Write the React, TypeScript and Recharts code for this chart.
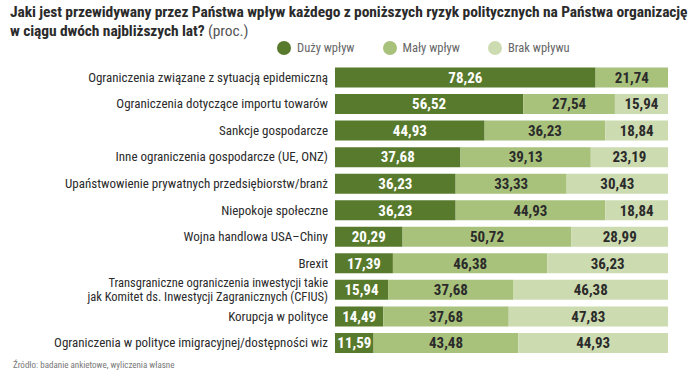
import { BarChart, Bar, XAxis, YAxis, LabelList } from 'recharts';

const categories = [
  'Ograniczenia związane z sytuacją epidemiczną',
  'Ograniczenia dotyczące importu towarów',
  'Sankcje gospodarcze',
  'Inne ograniczenia gospodarcze (UE, ONZ)',
  'Upaństwowienie prywatnych przedsiębiorstw/branż',
  'Niepokoje społeczne',
  'Wojna handlowa USA–Chiny',
  'Brexit',
  'Transgraniczne ograniczenia inwestycji takie\njak Komitet ds. Inwestycji Zagranicznych (CFIUS)',
  'Korupcja w polityce',
  'Ograniczenia w polityce imigracyjnej/dostępności wiz',
];
const duzy = [78.26, 56.52, 44.93, 37.68, 36.23, 36.23, 20.29, 17.39, 15.94, 14.49, 11.59];
const maly = [21.74, 27.54, 36.23, 39.13, 33.33, 44.93, 50.72, 46.38, 37.68, 37.68, 43.48];
const brak = [0, 15.94, 18.84, 23.19, 30.43, 18.84, 28.99, 36.23, 46.38, 47.83, 44.93];

const seriesNames = ['Duży wpływ', 'Mały wpływ', 'Brak wpływu'];
const colors = ['#587a2c', '#a8c27c', '#cddbb0'];

const data = categories.map((name, i) => ({ name, duzy: duzy[i], maly: maly[i], brak: brak[i] }));

const FONT = "'Roboto Condensed', 'Liberation Sans Narrow', 'DejaVu Sans Condensed', Roboto, sans-serif";

const fmt = (v: any) => (v ? Number(v).toFixed(2).replace('.', ',') : '');

const CategoryTick = (props: any) => {
  const { x, y, payload } = props;
  const lines = String(payload.value).split('\n');
  const multi = lines.length > 1;
  const lh = 14;
  const fs = multi ? 12.5 : 13;
  const y0 = y - ((lines.length - 1) * lh) / 2;
  const tx = x + 1;
  return (
    <text x={tx} y={y0} textAnchor="end" fontFamily={FONT} fontSize={fs} fill="#2b2b2b">
      {lines.map((l, i) => (
        <tspan key={i} x={tx} y={y0 + i * lh} dy="0.35em">{l}</tspan>
      ))}
    </text>
  );
};

export default function App() {
  return (
    <div style={{ position: 'absolute', left: 0, top: 0, width: 693, height: 387, background: '#fff' }}>
      <div style={{ position: 'absolute', left: 10, top: 3, fontFamily: FONT, fontSize: 15.5, lineHeight: '19px', color: '#2b2b2b', fontWeight: 700, whiteSpace: 'nowrap', letterSpacing: '-0.1px' }}>
        Jaki jest przewidywany przez Państwa wpływ każdego z poniższych ryzyk politycznych na Państwa organizację
        <br />
        w ciągu dwóch najbliższych lat? <span style={{ fontWeight: 400, color: '#555' }}>(proc.)</span>
      </div>
      <div style={{ position: 'absolute', left: 277, top: 40, display: 'flex', fontFamily: FONT, fontSize: 12.5, color: '#666' }}>
        {seriesNames.map((n, i) => (
          <div key={n} style={{ display: 'flex', alignItems: 'center', marginRight: 28 }}>
            <span style={{ width: 14, height: 14, borderRadius: '50%', background: colors[i], display: 'inline-block', marginRight: 6 }} />
            {n}
          </div>
        ))}
      </div>
      <BarChart width={693} height={387} data={data} layout="vertical" barCategoryGap={3.5}
        margin={{ top: 64, right: 25, bottom: 31, left: 0 }}>
        <XAxis type="number" domain={[0, 100]} hide />
        <YAxis type="category" dataKey="name" width={335} axisLine={false} tickLine={false} tick={<CategoryTick />} interval={0} />
        {['duzy', 'maly', 'brak'].map((k, i) => (
          <Bar key={k} dataKey={k} name={seriesNames[i]} stackId="a" fill={colors[i]} isAnimationActive={false}>
            <LabelList dataKey={k} position="center" formatter={fmt}
              style={{ fontFamily: FONT, fontSize: 15, fontWeight: 700, fill: i === 0 ? '#ffffff' : '#2b2b2b' }} />
          </Bar>
        ))}
      </BarChart>
      <div style={{ position: 'absolute', left: 13, top: 360, fontFamily: FONT, fontSize: 9, color: '#777' }}>
        Źródło: badanie ankietowe, wyliczenia własne
      </div>
    </div>
  );
}
